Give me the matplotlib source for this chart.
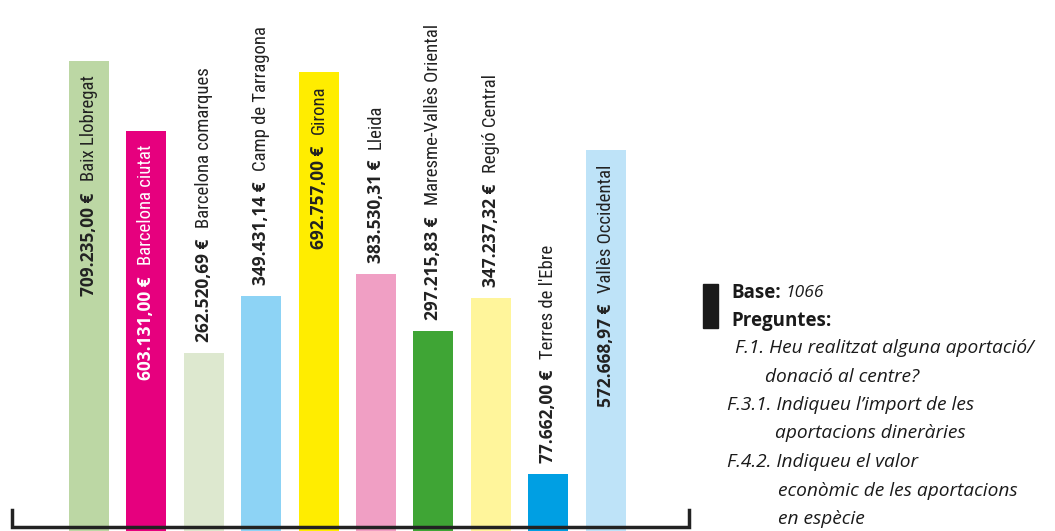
import matplotlib
matplotlib.use("Agg")
import matplotlib.pyplot as plt
from matplotlib import font_manager
from matplotlib.patches import Rectangle

# data
regions = ["Baix Llobregat", "Barcelona ciutat", "Barcelona comarques", "Camp de Tarragona",
           "Girona", "Lleida", "Maresme-Vallès Oriental", "Regió Central",
           "Terres de l'Ebre", "Vallès Occidental"]
values = [709235.00, 603131.00, 262520.69, 349431.14, 692757.00,
          383530.31, 297215.83, 347237.32, 77662.00, 572668.97]
value_labels = ["709.235,00 €", "603.131,00 €", "262.520,69 €", "349.431,14 €", "692.757,00 €",
                "383.530,31 €", "297.215,83 €", "347.237,32 €", "77.662,00 €", "572.668,97 €"]
colors = ["#bcd7a4", "#e6007e", "#dde8cf", "#8dd3f5", "#ffed00",
          "#f09fc4", "#3fa535", "#fff59b", "#009fe3", "#bee3f8"]
inside = [True, True, False, False, True, False, False, False, False, True]
text_colors = ["#222222", "#ffffff", "#222222", "#222222", "#222222",
               "#222222", "#222222", "#222222", "#222222", "#222222"]

notes = [("F.1. Heu realitzat alguna aportació/", 735),
         ("donació al centre?", 765),
         ("F.3.1. Indiqueu l\u2019import de les", 727),
         ("aportacions dineràries", 775),
         ("F.4.2. Indiqueu el valor", 727),
         ("econòmic de les aportacions", 778),
         ("en espècie", 778)]

installed = {f.name for f in font_manager.fontManager.ttflist}
def pick(*names):
    for n in names:
        if n in installed:
            return n
    return "DejaVu Sans"

name_font = pick("Liberation Sans Narrow", "Roboto Condensed", "Open Sans", "Roboto")
bold_font = pick("Open Sans", "Noto Sans", "DejaVu Sans")
note_font = pick("Open Sans", "Noto Sans", "Lato")

W, H = 1055, 531
fig = plt.figure(figsize=(W / 100, H / 100), dpi=100)
ax = fig.add_axes([0, 0, 1, 1])
ax.set_axis_off()

pitch = 57.4
x0 = 89
ax.set_xlim(-x0 / pitch, (W - x0) / pitch)
per_px = 1529.0
ax.set_ylim(-6 * per_px, 525 * per_px)
ymin = -6 * per_px

x = list(range(len(values)))
ax.bar(x, [v - ymin for v in values], bottom=ymin, width=0.7, color=colors, zorder=1)

# bracket axis
ax.plot([-1.34, -1.34, 10.45, 10.45], [22935, -3058, -3058, 22935],
        color="#222222", lw=2.5, solid_joinstyle="miter", zorder=3, clip_on=False)

fig.canvas.draw()
r = fig.canvas.get_renderer()
inv = ax.transData.inverted()
gap = 11 * per_px
sep = 11 * per_px

for i, (v, lab, reg) in enumerate(zip(values, value_labels, regions)):
    c = text_colors[i]
    if inside[i]:
        t1 = ax.text(i, v - 14 * per_px, reg, rotation=90, ha="center", va="top",
                     fontsize=13.5, color=c, family=name_font, zorder=4)
        bb = t1.get_window_extent(r)
        ybot = inv.transform((0, bb.y0))[1]
        ax.text(i, ybot - sep, lab, rotation=90, ha="center", va="top",
                fontsize=12.5, fontweight="bold", color=c, family=bold_font, zorder=4)
    else:
        t1 = ax.text(i, v + gap, lab, rotation=90, ha="center", va="bottom",
                     fontsize=12.5, fontweight="bold", color=c, family=bold_font, zorder=4)
        bb = t1.get_window_extent(r)
        ytop = inv.transform((0, bb.y1))[1]
        ax.text(i, ytop + sep, reg, rotation=90, ha="center", va="bottom",
                fontsize=13.5, color=c, family=name_font, zorder=4)

# side notes
fig.patches.append(Rectangle((703 / W, 1 - 328 / H), 15 / W, 44 / H,
                             transform=fig.transFigure, color="#1a1a1a"))
t = fig.text(731 / W, 1 - 293 / H, "Base:", fontsize=13.5, fontweight="bold",
             color="#1a1a1a", family=bold_font, va="center")
bb = t.get_window_extent(r)
fig.text(bb.x1 / W + 5 / W, 1 - 293 / H, "1066", fontsize=12.5, style="italic",
         color="#1a1a1a", family=note_font, va="center")
fig.text(731 / W, 1 - 321 / H, "Preguntes:", fontsize=13.5, fontweight="bold",
         color="#1a1a1a", family=bold_font, va="center")
for k, (line, xp) in enumerate(notes):
    fig.text(xp / W, 1 - (348 + k * 28.5) / H, line, fontsize=13.8, style="italic",
             color="#1a1a1a", family=note_font, va="center")

fig.savefig("out.png", dpi=100)
